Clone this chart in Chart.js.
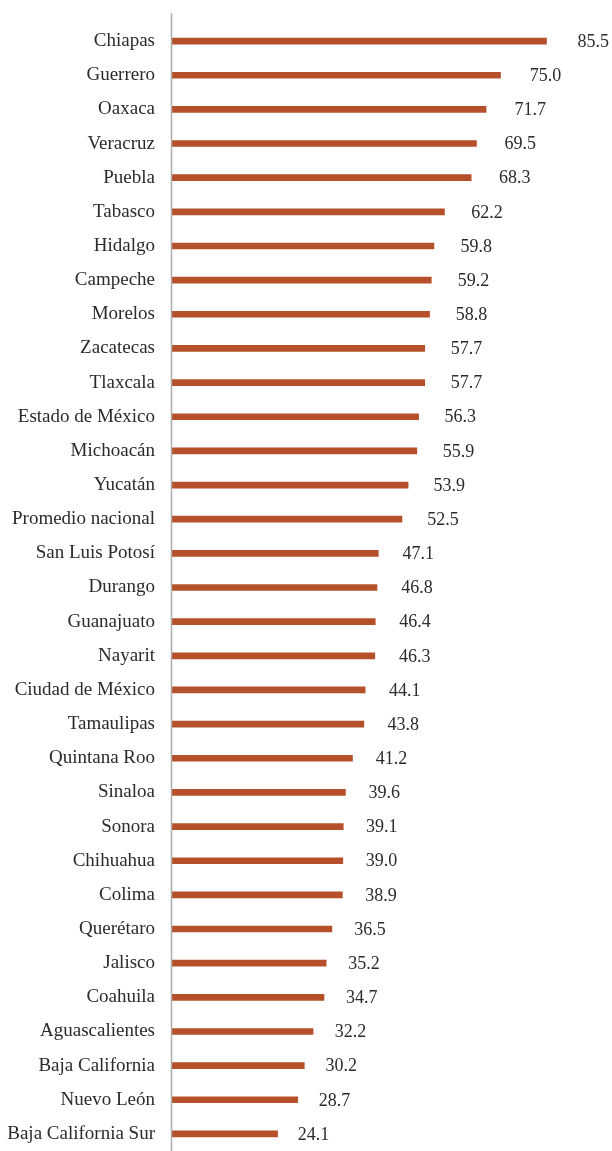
<!DOCTYPE html>
<html>
<head>
<meta charset="utf-8">
<script src="https://cdn.jsdelivr.net/npm/chart.js@4"></script>
<style>
  html, body { margin: 0; padding: 0; background: #fff; overflow: hidden; }
  #wrap { position: relative; width: 612px; height: 1151px; }
</style>
</head>
<body>
<div id="wrap"><canvas id="barChart"></canvas></div>
<script>
// Categories and values
const estados = [
    'Chiapas', 'Guerrero', 'Oaxaca', 'Veracruz', 'Puebla', 'Tabasco', 'Hidalgo',
    'Campeche', 'Morelos', 'Zacatecas', 'Tlaxcala', 'Estado de México', 'Michoacán',
    'Yucatán', 'Promedio nacional', 'San Luis Potosí', 'Durango', 'Guanajuato',
    'Nayarit', 'Ciudad de México', 'Tamaulipas', 'Quintana Roo', 'Sinaloa', 'Sonora',
    'Chihuahua', 'Colima', 'Querétaro', 'Jalisco', 'Coahuila', 'Aguascalientes',
    'Baja California', 'Nuevo León', 'Baja California Sur'
];
const porcentajes = [
    85.5, 75.0, 71.7, 69.5, 68.3, 62.2, 59.8, 59.2, 58.8, 57.7, 57.7, 56.3, 55.9,
    53.9, 52.5, 47.1, 46.8, 46.4, 46.3, 44.1, 43.8, 41.2, 39.6, 39.1, 39.0, 38.9,
    36.5, 35.2, 34.7, 32.2, 30.2, 28.7, 24.1
];

const barColor = '#B5502B';
const textColor = '#2b2b2b';
const serif = "'Liberation Serif', 'DejaVu Serif', serif";

// Axis line (runs a little above the first bar) and value labels
const extras = {
    id: 'extras',
    afterDatasetsDraw(chart) {
        const ctx = chart.ctx;
        const area = chart.chartArea;
        ctx.save();
        ctx.strokeStyle = '#ABABAB';
        ctx.lineWidth = 1.5;
        ctx.beginPath();
        ctx.moveTo(area.left - 0.5, area.top - 11);
        ctx.lineTo(area.left - 0.5, area.bottom);
        ctx.stroke();

        ctx.fillStyle = textColor;
        ctx.font = '18px ' + serif;
        ctx.textAlign = 'left';
        ctx.textBaseline = 'middle';
        const meta = chart.getDatasetMeta(0);
        meta.data.forEach((bar, i) => {
            const x = bar.x + 16 + (bar.x - area.left) * 0.04;
            ctx.fillText(porcentajes[i].toFixed(1), x, bar.y + 1);
        });
        ctx.restore();
    }
};

const ctx = document.getElementById('barChart').getContext('2d');
new Chart(ctx, {
    type: 'bar',
    data: {
        labels: estados,
        datasets: [{
            data: porcentajes,
            backgroundColor: barColor,
            borderWidth: 0,
            barThickness: 6
        }]
    },
    options: {
        indexAxis: 'y',
        responsive: true,
        maintainAspectRatio: false,
        animation: false,
        layout: { padding: { top: 24, right: 2, bottom: 0, left: 0 } },
        plugins: {
            legend: { display: false },
            tooltip: { enabled: false }
        },
        scales: {
            x: {
                display: false,
                min: 0,
                max: 100
            },
            y: {
                grid: { display: false, drawTicks: false },
                border: { display: false },
                ticks: {
                    color: textColor,
                    padding: 17,
                    autoSkip: false,
                    font: { family: serif, size: 19 }
                },
                afterFit(scale) {
                    scale.width = 172;
                    scale.paddingTop = 0;
                    scale.paddingBottom = 0;
                }
            }
        }
    },
    plugins: [extras]
});
</script>
</body>
</html>
